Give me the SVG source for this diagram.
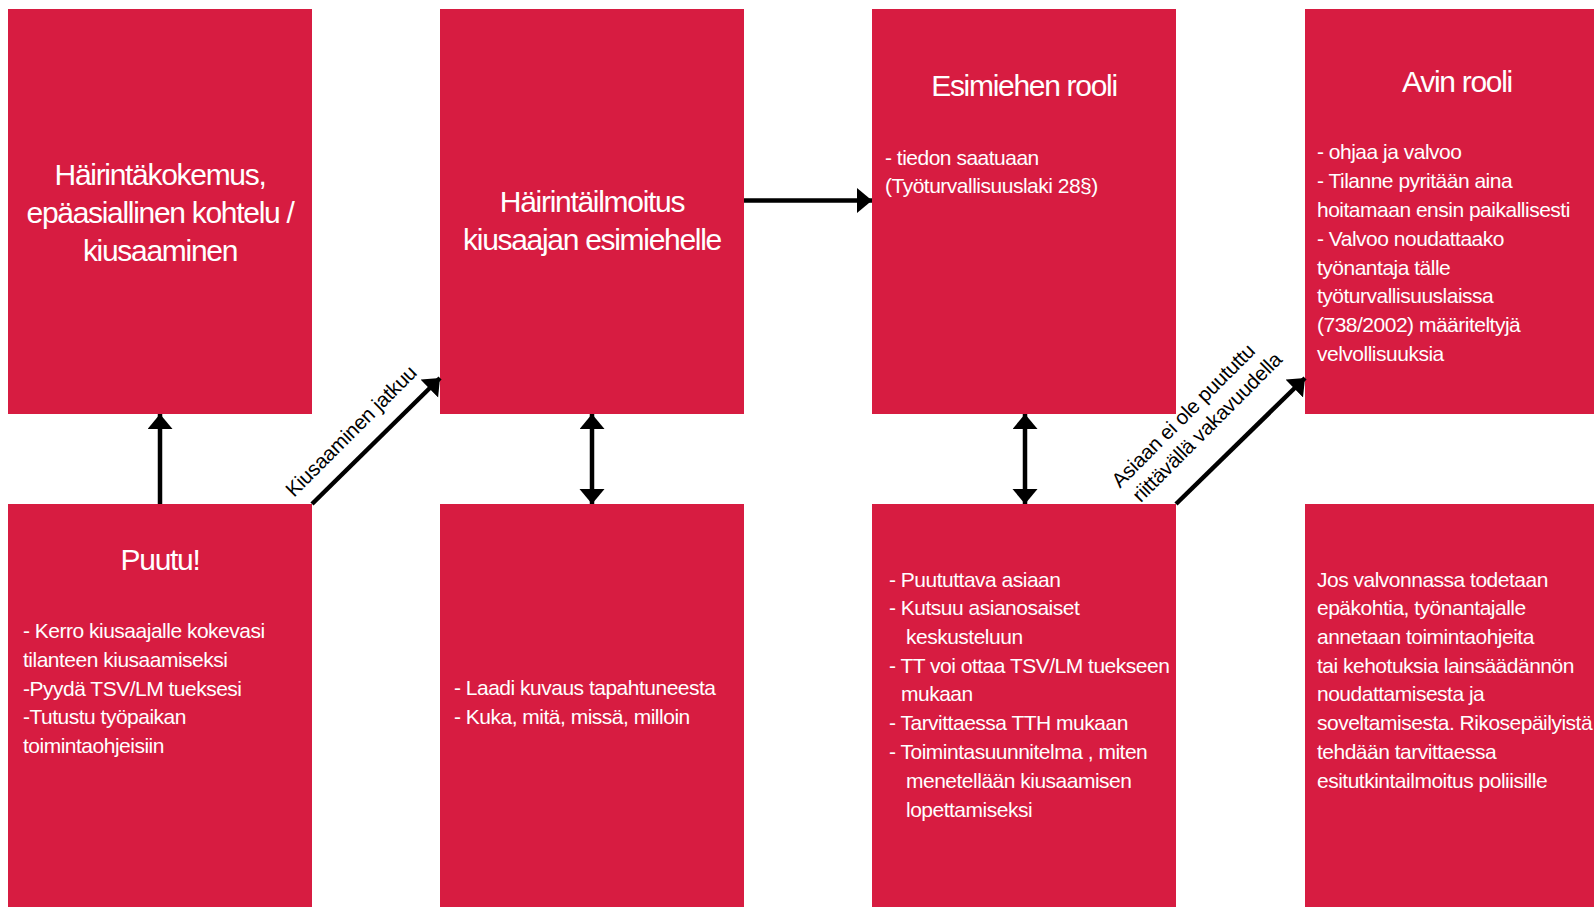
<svg xmlns="http://www.w3.org/2000/svg" width="1594" height="907" viewBox="0 0 1594 907">
  <style>
    .box { fill: #D71C41; }
    .title { font-family: "Liberation Sans", Arial, sans-serif; font-size: 30px; fill: #FFFFFF; text-anchor: middle; letter-spacing: -1.3px; }
    .body { font-family: "Liberation Sans", Arial, sans-serif; font-size: 21px; fill: #FFFFFF; letter-spacing: -0.5px; }
    .lbl { font-family: "Liberation Sans", Arial, sans-serif; font-size: 20.5px; fill: #000000; text-anchor: middle; letter-spacing: -0.2px; }
    .conn { stroke: #000000; stroke-width: 4.5; fill: none; }
  </style>
  <defs>
    <marker id="ah" markerUnits="userSpaceOnUse" markerWidth="16" markerHeight="26" refX="15" refY="12.5" orient="auto-start-reverse">
      <path d="M0,0 L15,12.5 L0,25 Z" fill="#000000"/>
    </marker>
  </defs>
  <rect width="1594" height="907" fill="#FFFFFF"/>

  <g id="node-hairintakokemus">
    <rect class="box" x="8" y="9" width="304" height="405"/>
    <text class="title" x="160" y="185">Häirintäkokemus,</text>
    <text class="title" x="160" y="223">epäasiallinen kohtelu /</text>
    <text class="title" x="160" y="261">kiusaaminen</text>
  </g>

  <g id="node-hairintailmoitus">
    <rect class="box" x="440" y="9" width="304" height="405"/>
    <text class="title" x="592" y="212">Häirintäilmoitus</text>
    <text class="title" x="592" y="250">kiusaajan esimiehelle</text>
  </g>

  <g id="node-esimiehen-rooli">
    <rect class="box" x="872" y="9" width="304" height="405"/>
    <text class="title" x="1024" y="96">Esimiehen rooli</text>
    <text class="body" x="885" y="165">- tiedon saatuaan</text>
    <text class="body" x="885" y="193">(Työturvallisuuslaki 28§)</text>
  </g>

  <g id="node-avin-rooli">
    <rect class="box" x="1305" y="9" width="304" height="405"/>
    <text class="title" x="1457" y="92">Avin rooli</text>
    <text class="body" x="1317" y="159">- ohjaa ja valvoo</text>
    <text class="body" x="1317" y="188">- Tilanne pyritään aina</text>
    <text class="body" x="1317" y="217">hoitamaan ensin paikallisesti</text>
    <text class="body" x="1317" y="246">- Valvoo noudattaako</text>
    <text class="body" x="1317" y="275">työnantaja tälle</text>
    <text class="body" x="1317" y="303">työturvallisuuslaissa</text>
    <text class="body" x="1317" y="332">(738/2002) määriteltyjä</text>
    <text class="body" x="1317" y="361">velvollisuuksia</text>
  </g>

  <g id="node-puutu">
    <rect class="box" x="8" y="504" width="304" height="403"/>
    <text class="title" x="160" y="570">Puutu!</text>
    <text class="body" x="23" y="638">- Kerro kiusaajalle kokevasi</text>
    <text class="body" x="23" y="667">tilanteen kiusaamiseksi</text>
    <text class="body" x="23" y="696">-Pyydä TSV/LM tueksesi</text>
    <text class="body" x="23" y="724">-Tutustu työpaikan</text>
    <text class="body" x="23" y="753">toimintaohjeisiin</text>
  </g>

  <g id="node-laadi-kuvaus">
    <rect class="box" x="440" y="504" width="304" height="403"/>
    <text class="body" x="454" y="695">- Laadi kuvaus tapahtuneesta</text>
    <text class="body" x="454" y="724">- Kuka, mitä, missä, milloin</text>
  </g>

  <g id="node-puututtava">
    <rect class="box" x="872" y="504" width="304" height="403"/>
    <text class="body" x="889" y="587">- Puututtava asiaan</text>
    <text class="body" x="889" y="615">- Kutsuu asianosaiset</text>
    <text class="body" x="906" y="644">keskusteluun</text>
    <text class="body" x="889" y="673">- TT voi ottaa TSV/LM tuekseen</text>
    <text class="body" x="901" y="701">mukaan</text>
    <text class="body" x="889" y="730">- Tarvittaessa TTH mukaan</text>
    <text class="body" x="889" y="759">- Toimintasuunnitelma , miten</text>
    <text class="body" x="906" y="788">menetellään kiusaamisen</text>
    <text class="body" x="906" y="817">lopettamiseksi</text>
  </g>

  <g id="node-valvonta">
    <rect class="box" x="1305" y="504" width="304" height="403"/>
    <text class="body" x="1317" y="587">Jos valvonnassa todetaan</text>
    <text class="body" x="1317" y="615">epäkohtia, työnantajalle</text>
    <text class="body" x="1317" y="644">annetaan toimintaohjeita</text>
    <text class="body" x="1317" y="673">tai kehotuksia lainsäädännön</text>
    <text class="body" x="1317" y="701">noudattamisesta ja</text>
    <text class="body" x="1317" y="730">soveltamisesta. Rikosepäilyistä</text>
    <text class="body" x="1317" y="759">tehdään tarvittaessa</text>
    <text class="body" x="1317" y="788">esitutkintailmoitus poliisille</text>
  </g>

  <g id="connectors">
    <line class="conn" x1="160" y1="504" x2="160" y2="414" marker-end="url(#ah)"/>
    <line class="conn" x1="312" y1="504" x2="440" y2="378" marker-end="url(#ah)"/>
    <line class="conn" x1="592" y1="414" x2="592" y2="504" marker-start="url(#ah)" marker-end="url(#ah)"/>
    <line class="conn" x1="744" y1="200.5" x2="872" y2="200.5" marker-end="url(#ah)"/>
    <line class="conn" x1="1025" y1="414" x2="1025" y2="504" marker-start="url(#ah)" marker-end="url(#ah)"/>
    <line class="conn" x1="1176" y1="504" x2="1305" y2="378" marker-end="url(#ah)"/>
    <text class="lbl" transform="translate(356,436) rotate(-45)">Kiusaaminen jatkuu</text>
    <text class="lbl" transform="translate(1212,432) rotate(-45)">
      <tspan x="-6" y="-25">Asiaan ei ole puututtu</tspan>
      <tspan x="0" y="0">riittävällä vakavuudella</tspan>
    </text>
  </g>
</svg>
